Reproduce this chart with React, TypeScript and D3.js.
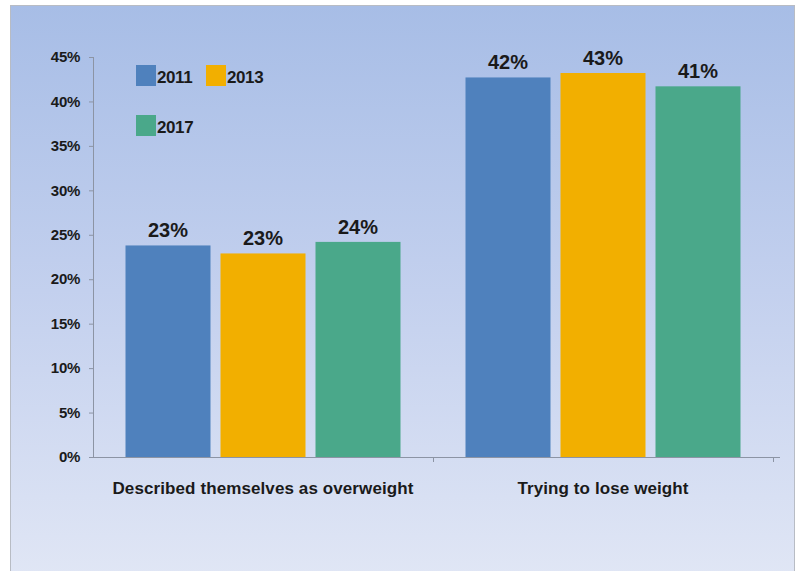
import React from "react";
import * as d3 from "d3";

const categories = ["Described themselves as overweight", "Trying to lose weight"];
const years = ["2011", "2013", "2017"];
const values2011 = [23.8, 42.7];
const values2013 = [22.9, 43.2];
const values2017 = [24.2, 41.7];
const labels2011 = ["23%", "42%"];
const labels2013 = ["23%", "43%"];
const labels2017 = ["24%", "41%"];
const yTicks = [0, 5, 10, 15, 20, 25, 30, 35, 40, 45];
const colors = ["#4f81bd", "#f2af00", "#4aa88a"];

const W = 801;
const H = 571;
const FONT = "'Liberation Sans', Arial, sans-serif";

export default function App() {
  const x0 = d3.scaleBand<string>().domain(categories).range([93, 773]).paddingInner(0).paddingOuter(0);
  const y = d3.scaleLinear().domain([0, 45]).range([457, 57]);
  const series = [values2011, values2013, values2017];
  const labels = [labels2011, labels2013, labels2017];
  const barW = 85;
  const gap = 10;
  const groupW = barW * 3 + gap * 2;

  return (
    <svg width={W} height={H} style={{ position: "absolute", left: 0, top: 0 }} fontFamily={FONT}>
      <defs>
        <linearGradient id="bg" x1="0" y1="0" x2="0" y2="1">
          <stop offset="0" stopColor="#a7bde6" />
          <stop offset="0.5" stopColor="#c3d0ee" />
          <stop offset="1" stopColor="#e0e6f5" />
        </linearGradient>
      </defs>
      <rect x={0} y={0} width={W} height={H} fill="#ffffff" />
      <rect x={10.5} y={5.5} width={784} height={570} fill="url(#bg)" stroke="#b8bcc4" strokeWidth={1} />

      {/* y axis */}
      <line x1={93.5} x2={93.5} y1={y(45)} y2={y(0)} stroke="#8c94a4" strokeWidth={1} />
      {yTicks.map((t) => (
        <g key={t}>
          <line x1={89} x2={93.5} y1={y(t) + 0.5} y2={y(t) + 0.5} stroke="#8c94a4" />
          <text x={80} y={y(t)} dy="0.35em" textAnchor="end" fontSize={15} fontWeight="bold" fill="#1a1a1a" letterSpacing={-0.3}>
            {t}%
          </text>
        </g>
      ))}
      {/* x axis */}
      <line x1={93} x2={780} y1={y(0) + 0.5} y2={y(0) + 0.5} stroke="#8c94a4" />
      <line x1={x0(categories[1])! + 0.5} x2={x0(categories[1])! + 0.5} y1={y(0)} y2={y(0) + 5} stroke="#8c94a4" />
      <line x1={773.5} x2={773.5} y1={y(0)} y2={y(0) + 5} stroke="#8c94a4" />

      {categories.map((c, ci) => {
        const start = x0(c)! + (x0.bandwidth() - groupW) / 2;
        return (
          <g key={c}>
            {series.map((s, si) => {
              const bx = start + si * (barW + gap);
              return (
                <g key={si}>
                  <rect x={bx} y={y(s[ci])} width={barW} height={y(0) - y(s[ci])} fill={colors[si]} />
                  <text x={bx + barW / 2} y={y(s[ci]) - 8} textAnchor="middle" fontSize={20} fontWeight="bold" fill="#1a1a1a">
                    {labels[si][ci]}
                  </text>
                </g>
              );
            })}
            <text x={x0(c)! + x0.bandwidth() / 2} y={494} textAnchor="middle" fontSize={17} fontWeight="bold" fill="#1a1a1a" letterSpacing={0.1}>
              {c}
            </text>
          </g>
        );
      })}

      {/* legend */}
      {years.map((yr, i) => {
        const lx = i === 1 ? 206 : 136;
        const ly = i === 2 ? 115 : 65;
        return (
          <g key={yr}>
            <rect x={lx} y={ly} width={20} height={21} fill={colors[i]} />
            <text x={lx + 21} y={ly + 18} fontSize={17} fontWeight="bold" fill="#1a1a1a" letterSpacing={-0.4}>
              {yr}
            </text>
          </g>
        );
      })}
    </svg>
  );
}
